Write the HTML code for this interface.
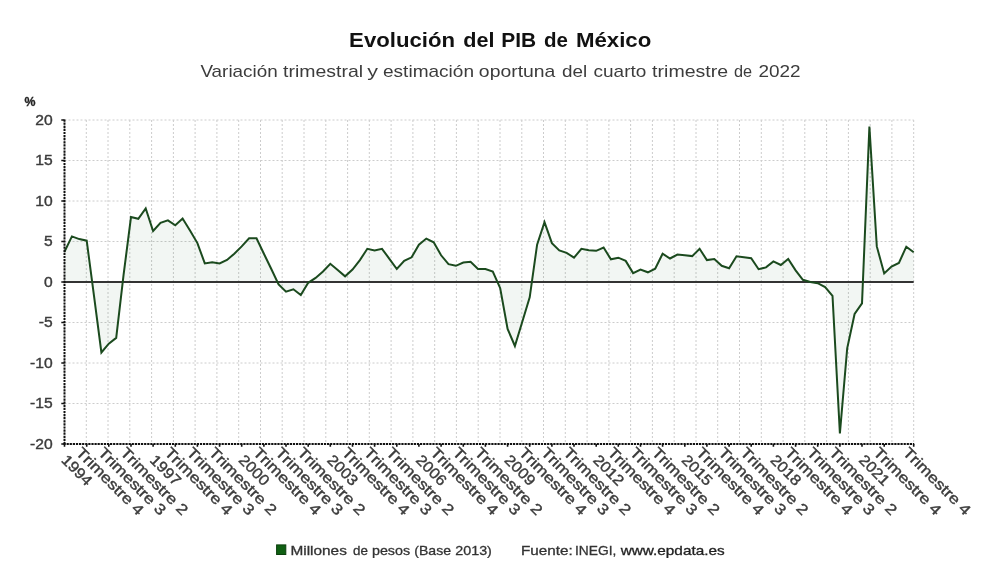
<!DOCTYPE html>
<html><head><meta charset="utf-8"><title>Evolución del PIB de México</title>
<style>html,body{margin:0;padding:0;background:#fff;}body{width:1000px;height:588px;overflow:hidden;}svg{display:block;}text{filter:grayscale(1);}text{font-family:"Liberation Sans",sans-serif;}</style></head><body>
<svg width="1000" height="588" viewBox="0 0 1000 588">
<rect width="1000" height="588" fill="#fff"/>
<text x="349.12" y="46.7" font-size="20" font-weight="bold" fill="#111"  textLength="105.84" lengthAdjust="spacingAndGlyphs">Evolución</text>
<text x="463.31" y="46.7" font-size="20" font-weight="bold" fill="#111"  textLength="31.22" lengthAdjust="spacingAndGlyphs">del</text>
<text x="501.20" y="46.7" font-size="20" font-weight="bold" fill="#111"  textLength="34.95" lengthAdjust="spacingAndGlyphs">PIB</text>
<text x="543.96" y="46.7" font-size="20" font-weight="bold" fill="#111"  textLength="23.94" lengthAdjust="spacingAndGlyphs">de</text>
<text x="575.91" y="46.7" font-size="20" font-weight="bold" fill="#111"  textLength="75.36" lengthAdjust="spacingAndGlyphs">México</text>
<text x="200.41" y="77" font-size="17" fill="#3c3c3c"  textLength="77.32" lengthAdjust="spacingAndGlyphs">Variación</text>
<text x="283.11" y="77" font-size="17" fill="#3c3c3c"  textLength="80.00" lengthAdjust="spacingAndGlyphs">trimestral</text>
<text x="367.34" y="77" font-size="17" fill="#3c3c3c"  textLength="10.71" lengthAdjust="spacingAndGlyphs">y</text>
<text x="383.00" y="77" font-size="17" fill="#3c3c3c"  textLength="91.03" lengthAdjust="spacingAndGlyphs">estimación</text>
<text x="478.89" y="77" font-size="17" fill="#3c3c3c"  textLength="76.51" lengthAdjust="spacingAndGlyphs">oportuna</text>
<text x="561.91" y="77" font-size="17" fill="#3c3c3c"  textLength="25.16" lengthAdjust="spacingAndGlyphs">del</text>
<text x="593.50" y="77" font-size="17" fill="#3c3c3c"  textLength="52.80" lengthAdjust="spacingAndGlyphs">cuarto</text>
<text x="652.11" y="77" font-size="17" fill="#3c3c3c"  textLength="75.96" lengthAdjust="spacingAndGlyphs">trimestre</text>
<text x="733.92" y="77" font-size="17" fill="#3c3c3c"  textLength="18.10" lengthAdjust="spacingAndGlyphs">de</text>
<text x="758.45" y="77" font-size="17" fill="#3c3c3c"  textLength="42.10" lengthAdjust="spacingAndGlyphs">2022</text>
<text x="24.5" y="106.4" font-size="12" font-weight="bold" fill="#222" stroke="#222" stroke-width="0.3" textLength="11" lengthAdjust="spacingAndGlyphs">%</text>
<path d="M64.5 120.0H913.7M64.5 160.5H913.7M64.5 201.0H913.7M64.5 241.5H913.7M64.5 322.5H913.7M64.5 363.0H913.7M64.5 403.5H913.7M64.5 444.0H913.7M64.5 120.0V444.0M86.3 120.0V444.0M108.0 120.0V444.0M129.8 120.0V444.0M151.6 120.0V444.0M173.4 120.0V444.0M195.1 120.0V444.0M216.9 120.0V444.0M238.7 120.0V444.0M260.5 120.0V444.0M282.2 120.0V444.0M304.0 120.0V444.0M325.8 120.0V444.0M347.6 120.0V444.0M369.3 120.0V444.0M391.1 120.0V444.0M412.9 120.0V444.0M434.7 120.0V444.0M456.4 120.0V444.0M478.2 120.0V444.0M500.0 120.0V444.0M521.8 120.0V444.0M543.5 120.0V444.0M565.3 120.0V444.0M587.1 120.0V444.0M608.9 120.0V444.0M630.6 120.0V444.0M652.4 120.0V444.0M674.2 120.0V444.0M696.0 120.0V444.0M717.7 120.0V444.0M739.5 120.0V444.0M761.3 120.0V444.0M783.1 120.0V444.0M804.8 120.0V444.0M826.6 120.0V444.0M848.4 120.0V444.0M870.2 120.0V444.0M891.9 120.0V444.0M913.7 120.0V444.0" stroke="#cccccc" stroke-width="1" stroke-dasharray="2 2" fill="none"/>
<path d="M64.5 282.0 L64.5 251.7 L71.9 236.4 L79.3 239.1 L86.7 240.7 L94.0 295.8 L101.4 352.5 L108.8 343.6 L116.2 337.9 L123.6 274.7 L131.0 217.0 L138.3 218.8 L145.7 208.5 L153.1 231.0 L160.5 222.9 L167.9 220.4 L175.3 225.3 L182.6 218.6 L190.0 230.6 L197.4 243.1 L204.8 263.4 L212.2 262.2 L219.6 263.4 L227.0 259.9 L234.3 253.7 L241.7 246.4 L249.1 238.3 L256.5 238.3 L263.9 253.7 L271.3 269.0 L278.6 284.4 L286.0 291.7 L293.4 289.3 L300.8 295.0 L308.2 282.8 L315.6 277.9 L323.0 271.5 L330.3 263.8 L337.7 269.9 L345.1 276.3 L352.5 269.6 L359.9 260.1 L367.3 248.8 L374.6 250.4 L382.0 248.8 L389.4 258.8 L396.8 269.0 L404.2 260.9 L411.6 257.3 L418.9 244.7 L426.3 238.6 L433.7 242.3 L441.1 255.3 L448.5 264.2 L455.9 265.8 L463.3 262.6 L470.6 261.8 L478.0 269.0 L485.4 269.0 L492.8 271.5 L500.2 288.2 L507.6 329.0 L514.9 346.0 L522.3 321.7 L529.7 297.4 L537.1 244.7 L544.5 222.1 L551.9 243.1 L559.3 250.4 L566.6 252.8 L574.0 257.7 L581.4 248.8 L588.8 250.2 L596.2 250.8 L603.6 247.5 L610.9 259.3 L618.3 257.7 L625.7 260.9 L633.1 273.1 L640.5 269.6 L647.9 272.3 L655.2 268.7 L662.6 253.7 L670.0 258.5 L677.4 254.5 L684.8 255.3 L692.2 256.1 L699.6 248.8 L706.9 260.1 L714.3 259.0 L721.7 265.8 L729.1 268.2 L736.5 256.3 L743.9 257.3 L751.2 258.2 L758.6 269.2 L766.0 267.4 L773.4 261.4 L780.8 265.0 L788.2 259.0 L795.6 270.4 L802.9 279.8 L810.3 282.0 L817.7 283.2 L825.1 287.1 L832.5 295.8 L839.9 433.5 L847.2 348.4 L854.6 314.0 L862.0 303.3 L869.4 126.5 L876.8 246.4 L884.2 273.5 L891.5 266.6 L898.9 262.9 L906.3 246.7 L913.7 252.3 L913.7 282.0Z" fill="#1b5e20" fill-opacity="0.055" stroke="none"/>
<path d="M64.5 282.0H913.7" stroke="#333" stroke-width="2" fill="none"/>
<path d="M64.5 251.7 L71.9 236.4 L79.3 239.1 L86.7 240.7 L94.0 295.8 L101.4 352.5 L108.8 343.6 L116.2 337.9 L123.6 274.7 L131.0 217.0 L138.3 218.8 L145.7 208.5 L153.1 231.0 L160.5 222.9 L167.9 220.4 L175.3 225.3 L182.6 218.6 L190.0 230.6 L197.4 243.1 L204.8 263.4 L212.2 262.2 L219.6 263.4 L227.0 259.9 L234.3 253.7 L241.7 246.4 L249.1 238.3 L256.5 238.3 L263.9 253.7 L271.3 269.0 L278.6 284.4 L286.0 291.7 L293.4 289.3 L300.8 295.0 L308.2 282.8 L315.6 277.9 L323.0 271.5 L330.3 263.8 L337.7 269.9 L345.1 276.3 L352.5 269.6 L359.9 260.1 L367.3 248.8 L374.6 250.4 L382.0 248.8 L389.4 258.8 L396.8 269.0 L404.2 260.9 L411.6 257.3 L418.9 244.7 L426.3 238.6 L433.7 242.3 L441.1 255.3 L448.5 264.2 L455.9 265.8 L463.3 262.6 L470.6 261.8 L478.0 269.0 L485.4 269.0 L492.8 271.5 L500.2 288.2 L507.6 329.0 L514.9 346.0 L522.3 321.7 L529.7 297.4 L537.1 244.7 L544.5 222.1 L551.9 243.1 L559.3 250.4 L566.6 252.8 L574.0 257.7 L581.4 248.8 L588.8 250.2 L596.2 250.8 L603.6 247.5 L610.9 259.3 L618.3 257.7 L625.7 260.9 L633.1 273.1 L640.5 269.6 L647.9 272.3 L655.2 268.7 L662.6 253.7 L670.0 258.5 L677.4 254.5 L684.8 255.3 L692.2 256.1 L699.6 248.8 L706.9 260.1 L714.3 259.0 L721.7 265.8 L729.1 268.2 L736.5 256.3 L743.9 257.3 L751.2 258.2 L758.6 269.2 L766.0 267.4 L773.4 261.4 L780.8 265.0 L788.2 259.0 L795.6 270.4 L802.9 279.8 L810.3 282.0 L817.7 283.2 L825.1 287.1 L832.5 295.8 L839.9 433.5 L847.2 348.4 L854.6 314.0 L862.0 303.3 L869.4 126.5 L876.8 246.4 L884.2 273.5 L891.5 266.6 L898.9 262.9 L906.3 246.7 L913.7 252.3" fill="none" stroke="#1b4a1e" stroke-width="2" stroke-linejoin="miter" stroke-linecap="butt"/>
<path d="M64.5 119.5V445.0" stroke="#111" stroke-width="2" stroke-dasharray="2.2 0.9" fill="none"/>
<path d="M63.5 444.0H914.2" stroke="#111" stroke-width="2" stroke-dasharray="2.2 0.9" fill="none"/>
<path d="M61.3 120.0H64.5M61.3 160.5H64.5M61.3 201.0H64.5M61.3 241.5H64.5M61.3 282.0H64.5M61.3 322.5H64.5M61.3 363.0H64.5M61.3 403.5H64.5M61.3 444.0H64.5M64.5 444.0V446.8M86.7 444.0V446.8M108.8 444.0V446.8M131.0 444.0V446.8M153.1 444.0V446.8M175.3 444.0V446.8M197.4 444.0V446.8M219.6 444.0V446.8M241.7 444.0V446.8M263.9 444.0V446.8M286.0 444.0V446.8M308.2 444.0V446.8M330.3 444.0V446.8M352.5 444.0V446.8M374.6 444.0V446.8M396.8 444.0V446.8M418.9 444.0V446.8M441.1 444.0V446.8M463.3 444.0V446.8M485.4 444.0V446.8M507.6 444.0V446.8M529.7 444.0V446.8M551.9 444.0V446.8M574.0 444.0V446.8M596.2 444.0V446.8M618.3 444.0V446.8M640.5 444.0V446.8M662.6 444.0V446.8M684.8 444.0V446.8M706.9 444.0V446.8M729.1 444.0V446.8M751.2 444.0V446.8M773.4 444.0V446.8M795.6 444.0V446.8M817.7 444.0V446.8M839.9 444.0V446.8M862.0 444.0V446.8M884.2 444.0V446.8M913.7 444.0V446.8" stroke="#111" stroke-width="1.6" fill="none"/>
<text x="52.6" y="124.6" text-anchor="end" font-size="14.6" fill="#3c3c3c" stroke="#3c3c3c" stroke-width="0.4" textLength="17.4" lengthAdjust="spacingAndGlyphs">20</text>
<text x="52.6" y="165.1" text-anchor="end" font-size="14.6" fill="#3c3c3c" stroke="#3c3c3c" stroke-width="0.4" textLength="17.4" lengthAdjust="spacingAndGlyphs">15</text>
<text x="52.6" y="205.6" text-anchor="end" font-size="14.6" fill="#3c3c3c" stroke="#3c3c3c" stroke-width="0.4" textLength="17.4" lengthAdjust="spacingAndGlyphs">10</text>
<text x="52.6" y="246.1" text-anchor="end" font-size="14.6" fill="#3c3c3c" stroke="#3c3c3c" stroke-width="0.4" textLength="8.7" lengthAdjust="spacingAndGlyphs">5</text>
<text x="52.6" y="286.6" text-anchor="end" font-size="14.6" fill="#3c3c3c" stroke="#3c3c3c" stroke-width="0.4" textLength="8.7" lengthAdjust="spacingAndGlyphs">0</text>
<text x="52.6" y="327.1" text-anchor="end" font-size="14.6" fill="#3c3c3c" stroke="#3c3c3c" stroke-width="0.4" textLength="13.9" lengthAdjust="spacingAndGlyphs">-5</text>
<text x="52.6" y="367.6" text-anchor="end" font-size="14.6" fill="#3c3c3c" stroke="#3c3c3c" stroke-width="0.4" textLength="22.6" lengthAdjust="spacingAndGlyphs">-10</text>
<text x="52.6" y="408.1" text-anchor="end" font-size="14.6" fill="#3c3c3c" stroke="#3c3c3c" stroke-width="0.4" textLength="22.6" lengthAdjust="spacingAndGlyphs">-15</text>
<text x="52.6" y="448.6" text-anchor="end" font-size="14.6" fill="#3c3c3c" stroke="#3c3c3c" stroke-width="0.4" textLength="22.6" lengthAdjust="spacingAndGlyphs">-20</text>
<text transform="translate(60.5 460.9) rotate(45)" font-size="15" fill="#3c3c3c" stroke="#3c3c3c" stroke-width="0.4" textLength="36.4" lengthAdjust="spacingAndGlyphs">1994</text>
<text transform="translate(75.1 453.5) rotate(45)" font-size="15" fill="#3c3c3c" stroke="#3c3c3c" stroke-width="0.4" textLength="88.6" lengthAdjust="spacingAndGlyphs">Trimestre 4</text>
<text transform="translate(97.2 453.5) rotate(45)" font-size="15" fill="#3c3c3c" stroke="#3c3c3c" stroke-width="0.4" textLength="88.6" lengthAdjust="spacingAndGlyphs">Trimestre 3</text>
<text transform="translate(119.4 453.5) rotate(45)" font-size="15" fill="#3c3c3c" stroke="#3c3c3c" stroke-width="0.4" textLength="88.6" lengthAdjust="spacingAndGlyphs">Trimestre 2</text>
<text transform="translate(149.1 460.9) rotate(45)" font-size="15" fill="#3c3c3c" stroke="#3c3c3c" stroke-width="0.4" textLength="36.4" lengthAdjust="spacingAndGlyphs">1997</text>
<text transform="translate(163.7 453.5) rotate(45)" font-size="15" fill="#3c3c3c" stroke="#3c3c3c" stroke-width="0.4" textLength="88.6" lengthAdjust="spacingAndGlyphs">Trimestre 4</text>
<text transform="translate(185.8 453.5) rotate(45)" font-size="15" fill="#3c3c3c" stroke="#3c3c3c" stroke-width="0.4" textLength="88.6" lengthAdjust="spacingAndGlyphs">Trimestre 3</text>
<text transform="translate(208.0 453.5) rotate(45)" font-size="15" fill="#3c3c3c" stroke="#3c3c3c" stroke-width="0.4" textLength="88.6" lengthAdjust="spacingAndGlyphs">Trimestre 2</text>
<text transform="translate(237.7 460.9) rotate(45)" font-size="15" fill="#3c3c3c" stroke="#3c3c3c" stroke-width="0.4" textLength="36.4" lengthAdjust="spacingAndGlyphs">2000</text>
<text transform="translate(252.3 453.5) rotate(45)" font-size="15" fill="#3c3c3c" stroke="#3c3c3c" stroke-width="0.4" textLength="88.6" lengthAdjust="spacingAndGlyphs">Trimestre 4</text>
<text transform="translate(274.4 453.5) rotate(45)" font-size="15" fill="#3c3c3c" stroke="#3c3c3c" stroke-width="0.4" textLength="88.6" lengthAdjust="spacingAndGlyphs">Trimestre 3</text>
<text transform="translate(296.6 453.5) rotate(45)" font-size="15" fill="#3c3c3c" stroke="#3c3c3c" stroke-width="0.4" textLength="88.6" lengthAdjust="spacingAndGlyphs">Trimestre 2</text>
<text transform="translate(326.3 460.9) rotate(45)" font-size="15" fill="#3c3c3c" stroke="#3c3c3c" stroke-width="0.4" textLength="36.4" lengthAdjust="spacingAndGlyphs">2003</text>
<text transform="translate(340.9 453.5) rotate(45)" font-size="15" fill="#3c3c3c" stroke="#3c3c3c" stroke-width="0.4" textLength="88.6" lengthAdjust="spacingAndGlyphs">Trimestre 4</text>
<text transform="translate(363.0 453.5) rotate(45)" font-size="15" fill="#3c3c3c" stroke="#3c3c3c" stroke-width="0.4" textLength="88.6" lengthAdjust="spacingAndGlyphs">Trimestre 3</text>
<text transform="translate(385.2 453.5) rotate(45)" font-size="15" fill="#3c3c3c" stroke="#3c3c3c" stroke-width="0.4" textLength="88.6" lengthAdjust="spacingAndGlyphs">Trimestre 2</text>
<text transform="translate(414.9 460.9) rotate(45)" font-size="15" fill="#3c3c3c" stroke="#3c3c3c" stroke-width="0.4" textLength="36.4" lengthAdjust="spacingAndGlyphs">2006</text>
<text transform="translate(429.5 453.5) rotate(45)" font-size="15" fill="#3c3c3c" stroke="#3c3c3c" stroke-width="0.4" textLength="88.6" lengthAdjust="spacingAndGlyphs">Trimestre 4</text>
<text transform="translate(451.7 453.5) rotate(45)" font-size="15" fill="#3c3c3c" stroke="#3c3c3c" stroke-width="0.4" textLength="88.6" lengthAdjust="spacingAndGlyphs">Trimestre 3</text>
<text transform="translate(473.8 453.5) rotate(45)" font-size="15" fill="#3c3c3c" stroke="#3c3c3c" stroke-width="0.4" textLength="88.6" lengthAdjust="spacingAndGlyphs">Trimestre 2</text>
<text transform="translate(503.6 460.9) rotate(45)" font-size="15" fill="#3c3c3c" stroke="#3c3c3c" stroke-width="0.4" textLength="36.4" lengthAdjust="spacingAndGlyphs">2009</text>
<text transform="translate(518.1 453.5) rotate(45)" font-size="15" fill="#3c3c3c" stroke="#3c3c3c" stroke-width="0.4" textLength="88.6" lengthAdjust="spacingAndGlyphs">Trimestre 4</text>
<text transform="translate(540.3 453.5) rotate(45)" font-size="15" fill="#3c3c3c" stroke="#3c3c3c" stroke-width="0.4" textLength="88.6" lengthAdjust="spacingAndGlyphs">Trimestre 3</text>
<text transform="translate(562.4 453.5) rotate(45)" font-size="15" fill="#3c3c3c" stroke="#3c3c3c" stroke-width="0.4" textLength="88.6" lengthAdjust="spacingAndGlyphs">Trimestre 2</text>
<text transform="translate(592.2 460.9) rotate(45)" font-size="15" fill="#3c3c3c" stroke="#3c3c3c" stroke-width="0.4" textLength="36.4" lengthAdjust="spacingAndGlyphs">2012</text>
<text transform="translate(606.7 453.5) rotate(45)" font-size="15" fill="#3c3c3c" stroke="#3c3c3c" stroke-width="0.4" textLength="88.6" lengthAdjust="spacingAndGlyphs">Trimestre 4</text>
<text transform="translate(628.9 453.5) rotate(45)" font-size="15" fill="#3c3c3c" stroke="#3c3c3c" stroke-width="0.4" textLength="88.6" lengthAdjust="spacingAndGlyphs">Trimestre 3</text>
<text transform="translate(651.0 453.5) rotate(45)" font-size="15" fill="#3c3c3c" stroke="#3c3c3c" stroke-width="0.4" textLength="88.6" lengthAdjust="spacingAndGlyphs">Trimestre 2</text>
<text transform="translate(680.8 460.9) rotate(45)" font-size="15" fill="#3c3c3c" stroke="#3c3c3c" stroke-width="0.4" textLength="36.4" lengthAdjust="spacingAndGlyphs">2015</text>
<text transform="translate(695.3 453.5) rotate(45)" font-size="15" fill="#3c3c3c" stroke="#3c3c3c" stroke-width="0.4" textLength="88.6" lengthAdjust="spacingAndGlyphs">Trimestre 4</text>
<text transform="translate(717.5 453.5) rotate(45)" font-size="15" fill="#3c3c3c" stroke="#3c3c3c" stroke-width="0.4" textLength="88.6" lengthAdjust="spacingAndGlyphs">Trimestre 3</text>
<text transform="translate(739.6 453.5) rotate(45)" font-size="15" fill="#3c3c3c" stroke="#3c3c3c" stroke-width="0.4" textLength="88.6" lengthAdjust="spacingAndGlyphs">Trimestre 2</text>
<text transform="translate(769.4 460.9) rotate(45)" font-size="15" fill="#3c3c3c" stroke="#3c3c3c" stroke-width="0.4" textLength="36.4" lengthAdjust="spacingAndGlyphs">2018</text>
<text transform="translate(784.0 453.5) rotate(45)" font-size="15" fill="#3c3c3c" stroke="#3c3c3c" stroke-width="0.4" textLength="88.6" lengthAdjust="spacingAndGlyphs">Trimestre 4</text>
<text transform="translate(806.1 453.5) rotate(45)" font-size="15" fill="#3c3c3c" stroke="#3c3c3c" stroke-width="0.4" textLength="88.6" lengthAdjust="spacingAndGlyphs">Trimestre 3</text>
<text transform="translate(828.3 453.5) rotate(45)" font-size="15" fill="#3c3c3c" stroke="#3c3c3c" stroke-width="0.4" textLength="88.6" lengthAdjust="spacingAndGlyphs">Trimestre 2</text>
<text transform="translate(858.0 460.9) rotate(45)" font-size="15" fill="#3c3c3c" stroke="#3c3c3c" stroke-width="0.4" textLength="36.4" lengthAdjust="spacingAndGlyphs">2021</text>
<text transform="translate(872.6 453.5) rotate(45)" font-size="15" fill="#3c3c3c" stroke="#3c3c3c" stroke-width="0.4" textLength="88.6" lengthAdjust="spacingAndGlyphs">Trimestre 4</text>
<text transform="translate(902.1 453.5) rotate(45)" font-size="15" fill="#3c3c3c" stroke="#3c3c3c" stroke-width="0.4" textLength="88.6" lengthAdjust="spacingAndGlyphs">Trimestre 4</text>
<rect x="276.6" y="544.9" width="9.2" height="9.6" fill="#0f5f12" stroke="#0b3f0d" stroke-width="1"/>
<text x="290.44" y="554.6" font-size="13" fill="#333" stroke="#333" stroke-width="0.3" textLength="56.41" lengthAdjust="spacingAndGlyphs">Millones</text>
<text x="353.04" y="554.6" font-size="13" fill="#333" stroke="#333" stroke-width="0.3" textLength="14.85" lengthAdjust="spacingAndGlyphs">de</text>
<text x="371.97" y="554.6" font-size="13" fill="#333" stroke="#333" stroke-width="0.3" textLength="38.15" lengthAdjust="spacingAndGlyphs">pesos</text>
<text x="414.23" y="554.6" font-size="13" fill="#333" stroke="#333" stroke-width="0.3" textLength="36.80" lengthAdjust="spacingAndGlyphs">(Base</text>
<text x="455.28" y="554.6" font-size="13" fill="#333" stroke="#333" stroke-width="0.3" textLength="36.60" lengthAdjust="spacingAndGlyphs">2013)</text>
<text x="521.05" y="554.6" font-size="13" fill="#333" stroke="#333" stroke-width="0.3" textLength="51.64" lengthAdjust="spacingAndGlyphs">Fuente:</text>
<text x="575.03" y="554.6" font-size="13" fill="#333" stroke="#333" stroke-width="0.3" textLength="41.30" lengthAdjust="spacingAndGlyphs">INEGI,</text>
<text x="620.72" y="554.6" font-size="13" fill="#222" stroke="#222" stroke-width="0.3" textLength="103.93" lengthAdjust="spacingAndGlyphs">www.epdata.es</text>
</svg></body></html>
